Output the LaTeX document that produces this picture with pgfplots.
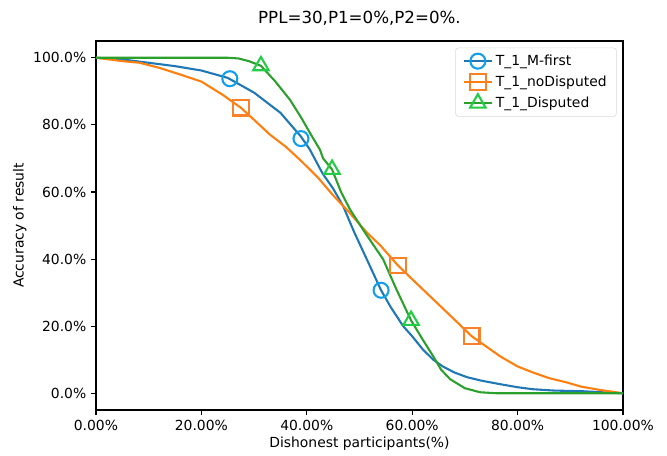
\documentclass[border=0pt]{standalone}
\usepackage{fontspec}
\setmainfont{DejaVu Sans}
\usepackage{pgfplots}
\pgfplotsset{compat=1.18}
\usetikzlibrary{calc}

\definecolor{tabblue}{HTML}{1F77B4}
\definecolor{taborange}{HTML}{FF7F0E}
\definecolor{tabgreen}{HTML}{2CA02C}
\definecolor{mkblue}{HTML}{12A0EA}
\definecolor{mkorange}{HTML}{F8812A}
\definecolor{mkgreen}{HTML}{22CC44}

\begin{document}
\begin{tikzpicture}[font=\fontsize{10}{12}\selectfont]
\begin{axis}[
    name=ax,
    scale only axis,
    width=379.4pt, height=265.7pt,
    xmin=0, xmax=1, ymin=-0.05, ymax=1.05,
    /pgf/number format/assume math mode=true,
    xtick={0,0.2,0.4,0.6,0.8,1},
    xticklabels={0.00\%,20.00\%,40.00\%,60.00\%,80.00\%,100.00\%},
    ytick={0,0.2,0.4,0.6,0.8,1},
    yticklabels={0.0\%,20.0\%,40.0\%,60.0\%,80.0\%,100.0\%},
    tick align=outside, tick pos=left,
    major tick length=3.5pt,
    every tick/.style={black, line width=0.8pt},
    axis line style={line width=0.8pt},
    title={PPL=30,P1=0\%,P2=0\%.},
    title style={yshift=2pt, font=\fontsize{12}{14}\selectfont},
    xlabel={Dishonest participants(\%)},
    ylabel={Accuracy of result},
    xlabel style={yshift=2pt},
    ylabel style={yshift=-2pt},
    legend style={at={(0.988,0.982)}, anchor=north east, draw=black!15,
        rounded corners=2pt, font=\fontsize{10}{12}\selectfont,
        row sep=2pt, inner xsep=5pt, inner ysep=3pt},
    legend cell align=left,
    legend image code/.code={\draw[mark repeat=2,mark phase=2,#1]
        plot coordinates {(0cm,0cm) (0.36cm,0cm) (0.72cm,0cm)};},
]
% lines
\addplot[tabblue, line width=1.5pt, forget plot] coordinates {
(0,1.0) (0.05,0.995) (0.10,0.985) (0.15,0.975) (0.20,0.962) (0.25,0.94)
(0.30,0.896) (0.35,0.836) (0.389,0.765) (0.406,0.726) (0.43,0.655) (0.45,0.61)
(0.469,0.558) (0.49,0.48) (0.514,0.399) (0.541,0.307) (0.56,0.255) (0.583,0.2)
(0.60,0.17) (0.62,0.131) (0.64,0.1) (0.658,0.08) (0.68,0.062) (0.704,0.048)
(0.73,0.038) (0.767,0.027) (0.80,0.018) (0.829,0.012) (0.87,0.008) (0.924,0.006)
(0.96,0.003) (1.0,0.0)
};
\addplot[taborange, line width=1.5pt, forget plot] coordinates {
(0,1.0) (0.05,0.99) (0.083,0.985) (0.12,0.97) (0.16,0.95) (0.20,0.929)
(0.24,0.89) (0.275,0.851) (0.30,0.815) (0.33,0.771) (0.36,0.735) (0.387,0.696)
(0.42,0.645) (0.45,0.59) (0.48,0.54) (0.514,0.479) (0.54,0.44) (0.573,0.381)
(0.60,0.34) (0.64,0.28) (0.68,0.22) (0.713,0.17) (0.74,0.14) (0.767,0.110)
(0.80,0.08) (0.829,0.062) (0.86,0.045) (0.894,0.032) (0.92,0.02) (0.956,0.01)
(1.0,0.0)
};
\addplot[tabgreen, line width=1.5pt, forget plot] coordinates {
(0,1.0) (0.25,1.0) (0.27,0.998) (0.29,0.99) (0.313,0.976) (0.34,0.93)
(0.368,0.875) (0.39,0.82) (0.406,0.776) (0.425,0.726) (0.431,0.70) (0.448,0.667)
(0.465,0.60) (0.482,0.548) (0.51,0.48) (0.545,0.399) (0.57,0.31) (0.598,0.217)
(0.62,0.16) (0.64,0.110) (0.655,0.07) (0.672,0.042) (0.70,0.015) (0.729,0.003)
(0.76,0.0) (1.0,0.0)
};
% markers
\addplot[only marks, mark=o, mark size=5.4pt, mkblue, line width=1.5pt, forget plot]
 coordinates {(0.254,0.9375) (0.389,0.759) (0.541,0.307)};
\addplot[only marks, mark=square, mark size=5.6pt, mkorange, line width=1.5pt, forget plot]
 coordinates {(0.275,0.851) (0.573,0.381) (0.713,0.170)};
\addplot[only marks, mark=triangle, mark size=6.4pt, mkgreen, line width=1.5pt, forget plot]
 coordinates {(0.313,0.976) (0.448,0.667) (0.598,0.217)};
% legend
\addlegendimage{tabblue, line width=1.5pt, mark=o, mark size=5.4pt, mark options={draw=mkblue, solid}}
\addlegendentry{T\_1\_M-first}
\addlegendimage{taborange, line width=1.5pt, mark=square, mark size=5.6pt, mark options={draw=mkorange, solid}}
\addlegendentry{T\_1\_noDisputed}
\addlegendimage{tabgreen, line width=1.5pt, mark=triangle, mark size=6.4pt, mark options={draw=mkgreen, solid}}
\addlegendentry{T\_1\_Disputed}
\end{axis}
\pgfresetboundingbox
\path[use as bounding box] ($(ax.south west)+(-69.1pt,-32.4pt)$) rectangle ($(ax.north east)+(31.7pt,29.5pt)$);
\end{tikzpicture}
\end{document}
